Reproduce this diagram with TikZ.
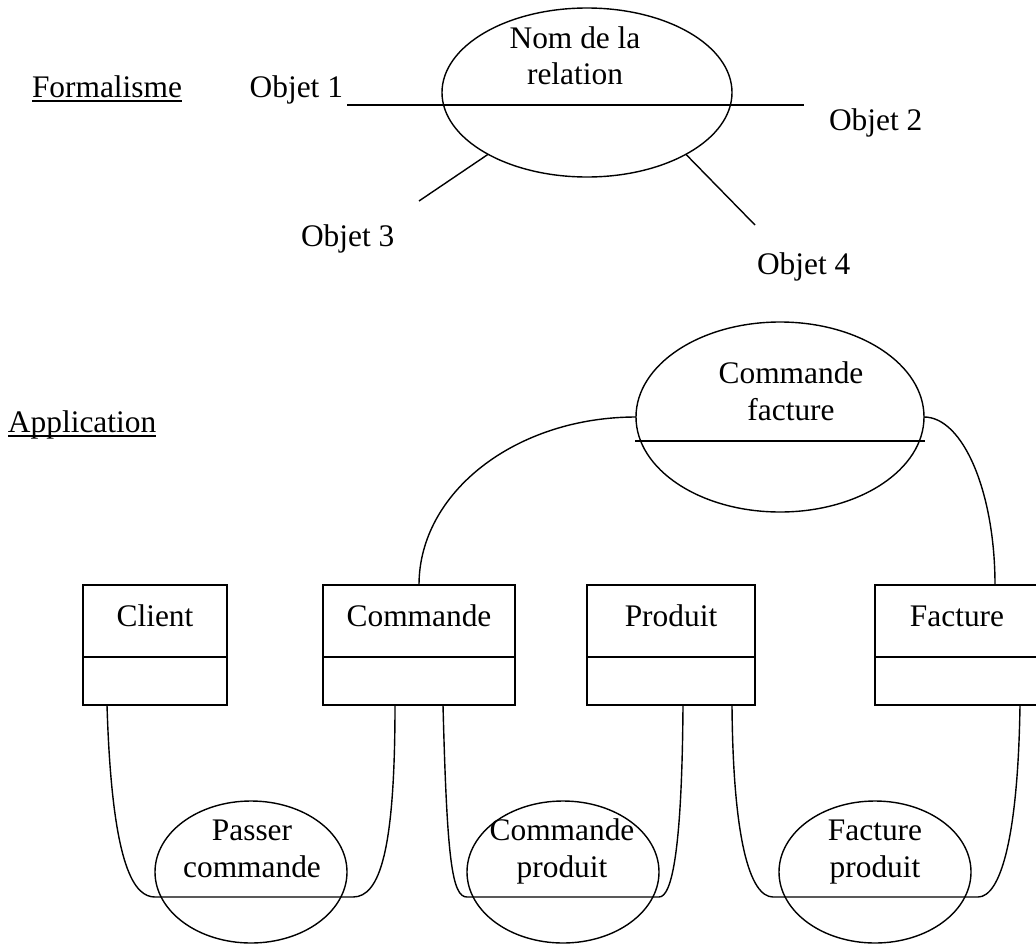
\documentclass[tikz,border=0pt]{standalone}
\usepackage{fontspec}
\setmainfont{Liberation Serif}
\usetikzlibrary{shapes.geometric,calc}
\begin{document}
\begin{tikzpicture}[x=1pt,y=-1pt,
  txt/.style={font=\fontsize{31.4}{37}\selectfont, inner sep=0pt, outer sep=0pt},
  ml/.style={txt, align=center},
  rel/.style={draw, ellipse, line width=1.4pt, inner sep=0pt, outer sep=0pt},
  cls/.style={draw, rectangle, line width=1.8pt, inner sep=0pt, outer sep=0pt, minimum height=120pt},
  wire/.style={line width=1.4pt},
  sep/.style={line width=1.8pt},
  uline/.style={line width=1.8pt}]
\useasboundingbox (0,0) rectangle (1036,945);

% ---------- Formalisme ----------
\node[txt, anchor=base west] (form) at (32,97) {Formalisme};
\draw[uline] ($(form.base west)+(0,4)$) -- ($(form.base east)+(0,4)$);

\node[rel, minimum width=290pt, minimum height=169pt] (nom) at (587,92.5) {};
\node[ml, anchor=base, font=\fontsize{31.4}{36}\selectfont] (nomt) at (575,84) {Nom de la\\relation};

\node[txt, anchor=base east] (ob1) at (343,97) {Objet 1};
\node[txt, anchor=base west] (ob2) at (829,130) {Objet 2};
\node[txt, anchor=base west] (ob3) at (301,246) {Objet 3};
\node[txt, anchor=base west] (ob4) at (757,274) {Objet 4};

\coordinate (l1) at (347,105);
\coordinate (l2) at (804,105);
\coordinate (l3) at (419,201);
\coordinate (l4) at (755,225);
\draw[wire] (l1) -- (l2);
\draw[wire] (nom.212) -- (l3);
\draw[wire] (nom.328) -- (l4);

% ---------- Application ----------
\node[txt, anchor=base west] (app) at (8,432) {Application};
\draw[uline] ($(app.base west)+(0,4)$) -- ($(app.base east)+(0,4)$);

\node[rel, minimum width=288pt, minimum height=190pt] (cf) at (780,417) {};
\node[ml, anchor=base] (cft) at (791,420) {Commande\\facture};
\draw[wire] ($(cf.west)+(-1,24)$) -- ($(cf.east)+(1,24)$);

% classes
\node[cls, minimum width=144pt] (client) at (155,645) {};
\node[cls, minimum width=192pt] (commande) at (419,645) {};
\node[cls, minimum width=168pt] (produit) at (671,645) {};
\node[cls, minimum width=164pt] (facture) at (957,645) {};
\foreach \b/\t in {client/Client, commande/Commande, produit/Produit, facture/Facture}{
  \draw[sep] ($(\b.north west)+(0,72)$) -- ($(\b.north east)+(0,72)$);
  \node[txt, anchor=base] at ($(\b.north)+(0,41)$) {\t};
}

% relation ellipses
\node[rel, minimum width=192pt, minimum height=142pt] (pc) at (251,872) {};
\node[ml, anchor=base] at (252,877) {Passer\\commande};
\node[rel, minimum width=192pt, minimum height=142pt] (cp) at (563,872) {};
\node[ml, anchor=base] at (562,877) {Commande\\produit};
\node[rel, minimum width=192pt, minimum height=142pt] (fp) at (875,872) {};
\node[ml, anchor=base] at (875,877) {Facture\\produit};

% connectors
\draw[wire] ($(commande.north west)+(96,0)$) .. controls +(0,-93) and +(-120,0) .. (cf.west);
\draw[wire] ($(facture.north west)+(120,0)$) .. controls +(0,-93) and +(39,0) .. (cf.east);

\draw[wire] ($(client.south west)+(24,0)$) .. controls +(5,165) and +(-20,0) .. (155,897)
  -- (353,897) .. controls +(27,0) and +(0,145) .. ($(commande.south west)+(72,0)$);
\draw[wire] ($(commande.south west)+(120,0)$) .. controls +(4,155) and +(-15,0) .. (467,897)
  -- (659,897) .. controls +(13,0) and +(-1,145) .. ($(produit.south west)+(96,0)$);
\draw[wire] ($(produit.south west)+(145,0)$) .. controls +(1,135) and +(-23,0) .. (773,897)
  -- (978,897) .. controls +(22,0) and +(-2,135) .. ($(facture.south west)+(145,0)$);
\end{tikzpicture}
\end{document}
